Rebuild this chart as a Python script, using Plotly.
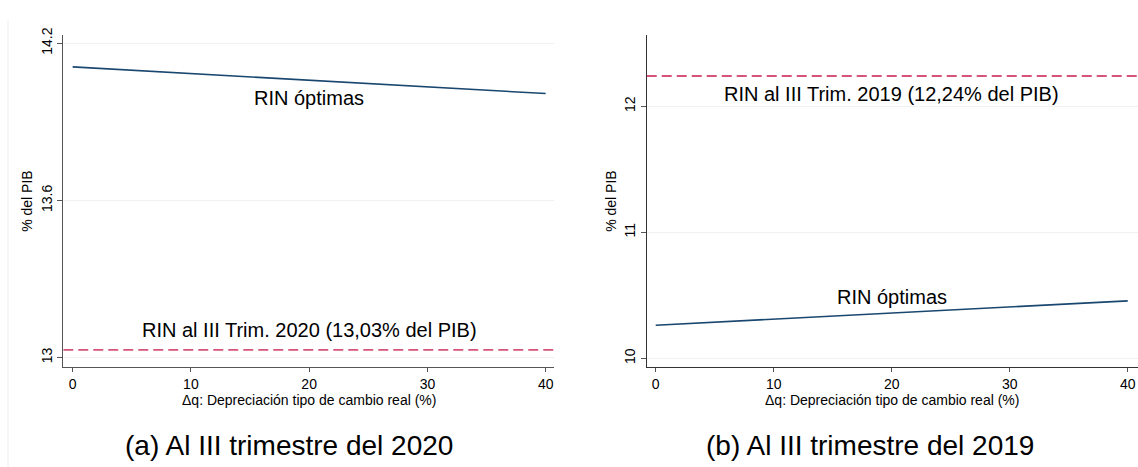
import plotly.graph_objects as go

# ---- data ----
dep_q = [0, 40]                       # Δq: depreciación tipo de cambio real (%)
rin_opt_2020 = [14.11, 14.008]        # RIN óptimas, panel (a)
rin_opt_2019 = [10.263, 10.456]       # RIN óptimas, panel (b)
rin_actual_2020 = 13.03               # RIN al III Trim. 2020
rin_actual_2019 = 12.24               # RIN al III Trim. 2019

yticks_a = [13, 13.6, 14.2]
yticks_b = [10, 11, 12]
xticks = [0, 10, 20, 30, 40]

label_opt = "RIN óptimas"
label_a = "RIN al III Trim. 2020 (13,03% del PIB)"
label_b = "RIN al III Trim. 2019 (12,24% del PIB)"
caption_a = "(a) Al III trimestre del 2020"
caption_b = "(b) Al III trimestre del 2019"
xtitle = "Δq: Depreciación tipo de cambio real (%)"
ytitle = "% del PIB"

NAVY = "#1a476f"
RED = "#d6537a"
FONT = "Liberation Sans, Arial, sans-serif"

fig = go.Figure()

# panel (a)
fig.add_trace(go.Scatter(x=dep_q, y=rin_opt_2020, mode="lines",
                         line=dict(color=NAVY, width=1.6),
                         xaxis="x", yaxis="y", showlegend=False, hoverinfo="skip"))
fig.add_trace(go.Scatter(x=[-0.79, 40.73], y=[rin_actual_2020] * 2, mode="lines",
                         line=dict(color=RED, width=1.8, dash="10px,5px"),
                         xaxis="x", yaxis="y", showlegend=False, hoverinfo="skip"))
# panel (b)
fig.add_trace(go.Scatter(x=dep_q, y=rin_opt_2019, mode="lines",
                         line=dict(color=NAVY, width=1.6),
                         xaxis="x2", yaxis="y2", showlegend=False, hoverinfo="skip"))
fig.add_trace(go.Scatter(x=[-0.76, 40.9], y=[rin_actual_2019] * 2, mode="lines",
                         line=dict(color=RED, width=1.8, dash="10px,5px"),
                         xaxis="x2", yaxis="y2", showlegend=False, hoverinfo="skip"))

xax_common = dict(showline=True, linewidth=1.2, ticks="outside", ticklen=4,
                  tickcolor="#555", zeroline=False,
                  tickfont=dict(family=FONT, size=14, color="black"))
yax_common = dict(showline=True, linewidth=1.2, ticks="outside", ticklen=5,
                  tickcolor="#555", zeroline=False,
                  tickfont=dict(family=FONT, size=14, color="black"))

fig.update_layout(
    width=1138, height=467,
    margin=dict(l=0, r=0, t=0, b=0),
    paper_bgcolor="white", plot_bgcolor="white",
    font=dict(family=FONT, color="black"),
    xaxis=dict(domain=[0.0556, 0.4871], range=[-0.79, 40.73], tickvals=xticks,
               showgrid=False, linecolor="#555", anchor="y", **xax_common),
    yaxis=dict(domain=[0.2169, 0.9394], range=[12.9635, 14.232], tickvals=yticks_a,
               ticktext=["13", "13.6", "14.2"], tickangle=-90,
               showgrid=True, gridcolor="#eef2f2", gridwidth=1, linecolor="#555", anchor="x",
               title=dict(text=ytitle, font=dict(size=14), standoff=2), **yax_common),
    xaxis2=dict(domain=[0.5683, 1.0], range=[-0.76, 40.87], tickvals=xticks,
                showgrid=False, linecolor="#333", anchor="y2", **xax_common),
    yaxis2=dict(domain=[0.2169, 0.9394], range=[9.93, 12.566], tickvals=yticks_b,
                tickangle=-90,
                showgrid=True, gridcolor="#eef2f2", gridwidth=1, linecolor="#333", anchor="x2",
                title=dict(text=ytitle, font=dict(size=14), standoff=2), **yax_common),
)

# x-axis titles (placed under each panel, centred on the data range)
xt_font = dict(family=FONT, size=14, color="black")
fig.add_annotation(x=20, y=1 - 399 / 467, xref="x", yref="paper", yanchor="middle",
                   text=xtitle, showarrow=False, font=xt_font)
fig.add_annotation(x=20, y=1 - 399 / 467, xref="x2", yref="paper", yanchor="middle",
                   text=xtitle, showarrow=False, font=xt_font)

ann_font = dict(family=FONT, size=20, color="black")
fig.add_annotation(x=20, y=13.992, xref="x", yref="y", text=label_opt, showarrow=False, font=ann_font)
fig.add_annotation(x=20, y=13.105, xref="x", yref="y", text=label_a, showarrow=False, font=ann_font)
fig.add_annotation(x=20, y=12.10, xref="x2", yref="y2", text=label_b, showarrow=False, font=ann_font)
fig.add_annotation(x=20, y=10.49, xref="x2", yref="y2", text=label_opt, showarrow=False, font=ann_font)

cap_font = dict(family=FONT, size=28, color="black")
fig.add_annotation(x=289 / 1138, y=1 - 445 / 467, xref="paper", yref="paper",
                   xanchor="center", yanchor="middle",
                   text=caption_a, showarrow=False, font=cap_font)
fig.add_annotation(x=870 / 1138, y=1 - 445 / 467, xref="paper", yref="paper",
                   xanchor="center", yanchor="middle",
                   text=caption_b, showarrow=False, font=cap_font)

# faint border at left of panel (a)
fig.add_shape(type="line", xref="paper", yref="paper",
              x0=8 / 1138, x1=8 / 1138, y0=1 - 14 / 467, y1=0,
              line=dict(color="#ececec", width=1))

fig.write_html("out.html")
